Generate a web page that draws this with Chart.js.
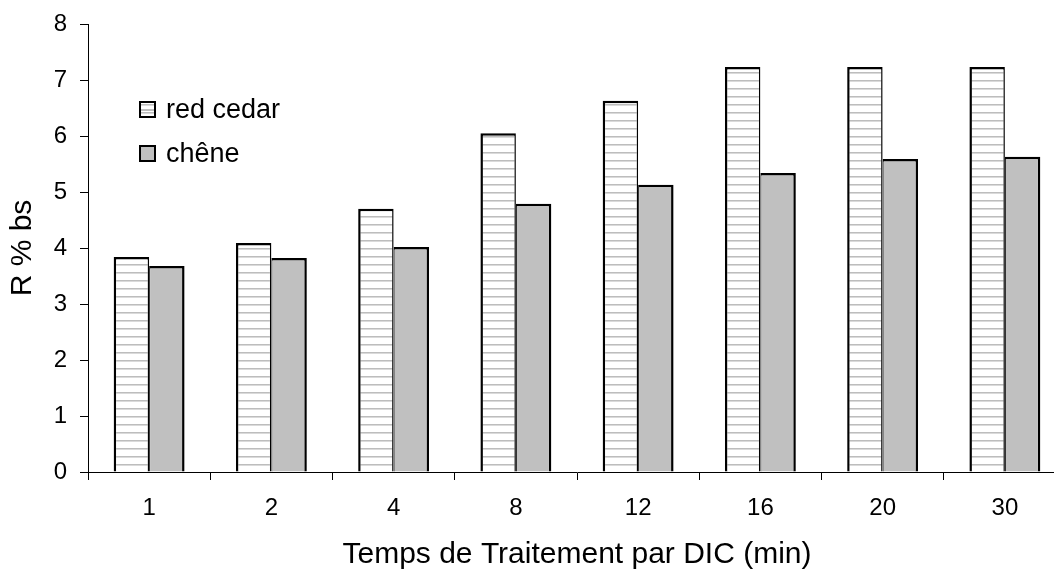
<!DOCTYPE html>
<html lang="fr">
  <head>
    <meta charset="UTF-8" />
    <title>R % bs</title>
    <style>
      html, body { margin: 0; padding: 0; background: #fff; overflow: hidden; }
      #chartContainer { position: relative; width: 1070px; height: 573px; }
    </style>
  </head>
  <body>
    <div id="chartContainer"><canvas id="chart"></canvas></div>

    <script src="https://cdn.jsdelivr.net/npm/chart.js@4/dist/chart.umd.min.js"></script>
    <script>
      const categories = ["1", "2", "4", "8", "12", "16", "20", "30"];
      const redCedar = [3.84, 4.09, 4.7, 6.05, 6.63, 7.23, 7.23, 7.23];
      const chene = [3.68, 3.82, 4.02, 4.79, 5.13, 5.34, 5.59, 5.63];
      const seriesNames = ["red cedar", "chêne"];
      const yMin = 0, yMax = 8, yStep = 1;

      const font = "'Liberation Sans', Arial, sans-serif";

      // horizontal stripes for the red cedar bars
      const makeStripes = () => {
        const c = document.createElement("canvas");
        c.width = 8;
        c.height = 8;
        const g = c.getContext("2d");
        g.fillStyle = "#fff";
        g.fillRect(0, 0, 8, 8);
        g.fillStyle = "#bdbdbd";
        g.fillRect(0, 0, 8, 1);
        g.fillStyle = "#dadada";
        g.fillRect(0, 1, 8, 1);
        return g.createPattern(c, "repeat");
      };
      const stripes = makeStripes();

      const legendPlugin = {
        id: "boxLegend",
        afterDraw(chart) {
          const ctx = chart.ctx;
          const items = [
            { y: 102, fill: stripes, line: true },
            { y: 146, fill: "#c0c0c0", line: false },
          ];
          ctx.save();
          items.forEach((it, i) => {
            ctx.fillStyle = it.fill;
            ctx.fillRect(140, it.y, 15, 15);
            if (it.line) {
              ctx.fillStyle = "#bdbdbd";
              ctx.fillRect(140, it.y + 7, 15, 2);
            }
            ctx.strokeStyle = "#000";
            ctx.lineWidth = 2;
            ctx.strokeRect(140, it.y, 15, 15);
            ctx.fillStyle = "#000";
            ctx.font = "27px " + font;
            ctx.textBaseline = "middle";
            ctx.fillText(seriesNames[i], 166, it.y + 9);
          });
          ctx.restore();
        },
      };

      new Chart(document.querySelector("#chart"), {
        type: "bar",
        data: {
          labels: categories,
          datasets: [
            {
              label: seriesNames[0],
              data: redCedar,
              backgroundColor: stripes,
              borderColor: "#000",
              borderWidth: { top: 2.5, left: 2.5, right: 1.5, bottom: 0 },
            },
            {
              label: seriesNames[1],
              data: chene,
              backgroundColor: "#c0c0c0",
              borderColor: "#000",
              borderWidth: { top: 2.5, left: 1, right: 2.5, bottom: 0 },
            },
          ],
        },
        options: {
          responsive: true,
          maintainAspectRatio: false,
          animation: false,
          datasets: { bar: { categoryPercentage: 0.58, barPercentage: 1.0 } },
          layout: { padding: { top: 24, right: 4, left: 0, bottom: 0 } },
          plugins: {
            legend: { display: false },
            tooltip: { enabled: false },
          },
          scales: {
            x: {
              grid: {
                offset: true,
                drawOnChartArea: false,
                tickLength: 8,
                color: "#000",
              },
              border: { color: "#000", width: 1 },
              ticks: { color: "#000", font: { family: font, size: 24 }, padding: 14 },
              title: {
                display: true,
                text: "Temps de Traitement par DIC (min)",
                color: "#000",
                font: { family: font, size: 30 },
                padding: { top: 0, bottom: 0 },
              },
              afterFit: (scale) => {
                scale.height = 101;
                scale.paddingLeft = 0;
                scale.paddingRight = 0;
              },
            },
            y: {
              min: yMin,
              max: yMax,
              grid: { drawOnChartArea: false, tickLength: 8, color: "#000" },
              border: { color: "#000", width: 1 },
              ticks: {
                stepSize: yStep,
                color: "#000",
                font: { family: font, size: 24 },
                padding: 13,
              },
              title: {
                display: true,
                text: "R % bs",
                color: "#000",
                font: { family: font, size: 30 },
                padding: { top: 5, bottom: 0 },
              },
              afterFit: (scale) => {
                scale.width = 88;
                scale.paddingTop = 0;
                scale.paddingBottom = 0;
              },
            },
          },
        },
        plugins: [legendPlugin],
      });
    </script>
  </body>
</html>
